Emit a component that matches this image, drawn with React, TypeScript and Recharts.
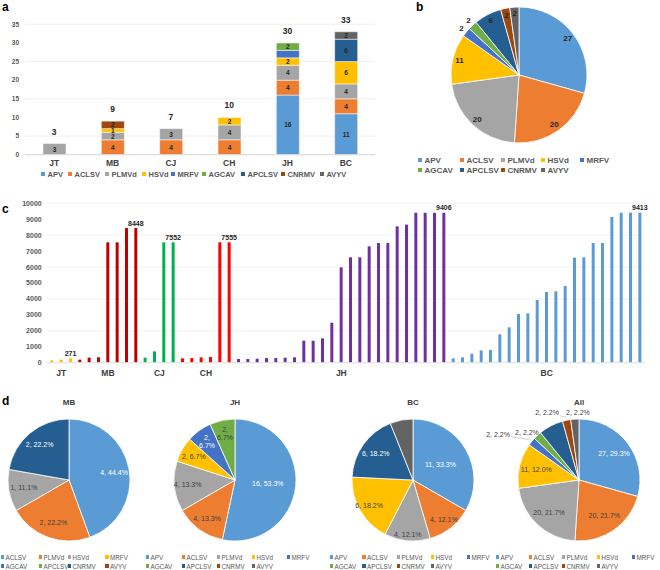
import React from 'react';
import {
  ComposedChart, BarChart, Bar, Line, XAxis, YAxis, CartesianGrid, LabelList,
  PieChart, Pie, Cell,
} from 'recharts';

const FONT = '"Liberation Sans", Arial, Helvetica, sans-serif';

// ---------- shared ----------
const VIRUSES = ['APV', 'ACLSV', 'PLMVd', 'HSVd', 'MRFV', 'AGCAV', 'APCLSV', 'CNRMV', 'AVYV'];
const PALETTE = ['#5B9BD5', '#ED7D31', '#A5A5A5', '#FFC000', '#4472C4', '#70AD47', '#255E91', '#9E480E', '#636363'];

// ---------- panel a ----------
const REGIONS = ['JT', 'MB', 'CJ', 'CH', 'JH', 'BC'];
const APV_BY_REGION = [0, 0, 0, 0, 16, 11];
const ACLSV_BY_REGION = [0, 4, 4, 4, 4, 4];
const PLMVD_BY_REGION = [3, 2, 3, 4, 4, 4];
const HSVD_BY_REGION = [0, 1, 0, 2, 2, 6];
const MRFV_BY_REGION = [0, 0, 0, 0, 2, 0];
const AGCAV_BY_REGION = [0, 0, 0, 0, 2, 0];
const APCLSV_BY_REGION = [0, 0, 0, 0, 0, 6];
const CNRMV_BY_REGION = [0, 2, 0, 0, 0, 0];
const AVYV_BY_REGION = [0, 0, 0, 0, 0, 2];
const A_TICKS = [0, 5, 10, 15, 20, 25, 30, 35];

// ---------- panel b / All ----------
const TOTAL_COUNTS = [27, 20, 20, 11, 2, 2, 6, 2, 2];

// ---------- panel c ----------
const C_GROUP_NAMES = ['JT', 'MB', 'CJ', 'CH', 'JH', 'BC'];
const C_GROUP_COLORS = ['#FFC000', '#C00000', '#00B050', '#FF0000', '#7030A0', '#5B9BD5'];
const JT_READS = [150, 190, 271];
const MB_READS = [190, 320, 340, 7552, 7552, 8448, 8448];
const CJ_READS = [314, 711, 7552, 7552];
const CH_READS = [272, 293, 335, 356, 7555, 7555];
const JH_READS = [230, 230, 251, 293, 293, 314, 335, 1380, 1380, 1527, 2510, 5983, 6611, 6611, 7301, 7510, 7510, 8556, 8661, 9406, 9406, 9406, 9406];
const BC_READS = [272, 335, 565, 774, 795, 1778, 2218, 3054, 3096, 3933, 4435, 4477, 4812, 6590, 6611, 7510, 7510, 9142, 9406, 9413, 9413];
const C_TICKS = [0, 1000, 2000, 3000, 4000, 5000, 6000, 7000, 8000, 9000, 10000];

// ---------- panel d ----------
const MB_NAMES = ['ACLSV', 'PLMVd', 'HSVd', 'MRFV', 'AGCAV', 'APCLSV', 'CNRMV', 'AVYV'];
const MB_COUNTS = [4, 2, 1, 0, 0, 0, 2, 0];
const JH_COUNTS = [16, 4, 4, 2, 2, 2, 0, 0, 0];
const BC_COUNTS = [11, 4, 4, 6, 0, 0, 6, 0, 2];
const ALL_COUNTS = TOTAL_COUNTS;

// ---------- derived tables ----------
const REGION_SERIES = [APV_BY_REGION, ACLSV_BY_REGION, PLMVD_BY_REGION, HSVD_BY_REGION, MRFV_BY_REGION,
  AGCAV_BY_REGION, APCLSV_BY_REGION, CNRMV_BY_REGION, AVYV_BY_REGION];
const aData = REGIONS.map((r, i) => {
  const row: any = { region: r };
  let total = 0;
  VIRUSES.forEach((v, k) => { row[v] = REGION_SERIES[k][i]; total += REGION_SERIES[k][i]; });
  row.total = total;
  return row;
});

const C_GROUP_READS = [JT_READS, MB_READS, CJ_READS, CH_READS, JH_READS, BC_READS];
const cData: any[] = [];
const cGroups: { name: string; center: number }[] = [];
C_GROUP_READS.forEach((arr, g) => {
  const start = cData.length;
  arr.forEach((v, j) => {
    cData.push({ i: cData.length, v, color: C_GROUP_COLORS[g], lbl: j === arr.length - 1 ? String(v) : '' });
  });
  cGroups.push({ name: C_GROUP_NAMES[g], center: start + (arr.length - 1) / 2 });
});

const pieData = (names: string[], counts: number[]) =>
  names.map((n, i) => ({ name: n, value: counts[i], color: PALETTE[i] })).filter(d => d.value > 0);

// ---------- helpers ----------
const LIGHT_TEXT = ['#5B9BD5', '#4472C4', '#255E91'];
const RAD = Math.PI / 180;

function LegendBox({ names, left, top, cols, rowH, fontSize, bold, gap = 2.5, box = 4 }: any) {
  return (
    <div style={{ position: 'absolute', left, top }}>
      {names.map((name: string, i: number) => {
        const c = i % cols.length;
        const r = Math.floor(i / cols.length);
        return (
          <div key={name + i} style={{
            position: 'absolute', left: cols[c], top: r * rowH - rowH / 2, height: rowH,
            display: 'flex', alignItems: 'center', whiteSpace: 'nowrap',
            fontSize, fontWeight: bold ? 'bold' : 'normal', color: '#595959', fontFamily: FONT,
          }}>
            <span style={{ display: 'inline-block', width: box, height: box, background: PALETTE[i], marginRight: gap }} />
            {name}
          </div>
        );
      })}
    </div>
  );
}

function Letter({ ch, left, top }: any) {
  return <div style={{ position: 'absolute', left, top, fontSize: 12, fontWeight: 'bold', fontFamily: FONT, color: '#000', lineHeight: 'normal' }}>{ch}</div>;
}

const segLabel = (props: any) => {
  const { x, y, width, height, value } = props;
  if (!value) return null;
  return (
    <text x={x + width / 2} y={y + height / 2} textAnchor="middle" dominantBaseline="central"
      fontSize={6.5} fontWeight="bold" fill="#262626" fontFamily={FONT}>{value}</text>
  );
};

const totalLabel = (props: any) => {
  const { x, y, value } = props;
  return (
    <text x={x} y={y - 12} textAnchor="middle" dominantBaseline="central"
      fontSize={8.5} fontWeight="bold" fill="#262626" fontFamily={FONT}>{value}</text>
  );
};

const C_BAND = (660 - 15.3 - 47.3) / 64;

const GroupTick = (props: any) => {
  const { x, y, payload } = props;
  const idx = Number(payload.value);
  const g = cGroups.find(gg => Math.floor(gg.center) === idx);
  if (!g) return null;
  return (
    <text x={x + (g.center - idx) * C_BAND} y={y} dy="0.71em" textAnchor="middle"
      fontSize={8.5} fontWeight="bold" fill="#404040" fontFamily={FONT}>{g.name}</text>
  );
};

const cValueLabel = (props: any) => {
  const { x, y, width, value } = props;
  if (!value) return null;
  return (
    <text x={x + width / 2} y={y - 2.5} textAnchor="middle"
      fontSize={7} fontWeight="bold" fill="#262626" fontFamily={FONT}>{value}</text>
  );
};

const bLabel = (props: any) => {
  const { cx, cy, midAngle, outerRadius, value } = props;
  const name = props.name ?? props.payload?.name;
  const f = name === 'MRFV' || name === 'AGCAV' ? 1.09 : 0.9;
  const x = cx + outerRadius * f * Math.cos(-midAngle * RAD);
  const y = cy + outerRadius * f * Math.sin(-midAngle * RAD);
  return (
    <text x={x} y={y} textAnchor="middle" dominantBaseline="central"
      fontSize={8} fontWeight="bold" fill="#262626" fontFamily={FONT}>{value}</text>
  );
};

function makeDLabel(opts: any) {
  return (props: any) => {
    const { cx, cy, midAngle, outerRadius, percent, value } = props;
    const p = props.payload ?? props;
    const name = props.name ?? p.name;
    const color = p.color ?? props.color ?? props.fill;
    if (!value || (opts.hide || []).includes(name)) return null;
    const o = (opts.place || {})[name] || {};
    const f = o.f ?? opts.f ?? 0.75;
    const ang = midAngle + (o.shift ?? 0);
    const x = cx + outerRadius * f * Math.cos(-ang * RAD);
    const y = cy + outerRadius * f * Math.sin(-ang * RAD);
    const pct = (percent * 100).toFixed(1) + '%';
    const fill = f < 1 && LIGHT_TEXT.includes(color) ? '#FFFFFF' : '#404040';
    const wrap = (opts.wrap || []).includes(name);
    let leader = null;
    if (o.leader) {
      const tx = cx + (outerRadius + 3) * Math.cos(-midAngle * RAD);
      const ty = cy + (outerRadius + 3) * Math.sin(-midAngle * RAD);
      const dx = tx - x, dy = ty - y;
      const t = Math.min(13 / Math.max(Math.abs(dx), 0.01), 4 / Math.max(Math.abs(dy), 0.01));
      leader = <line x1={x + t * dx} y1={y + t * dy} x2={tx} y2={ty} stroke="#BFBFBF" strokeWidth={0.7} />;
    }
    return (
      <g>
        {leader}
        {wrap ? (
          <text x={x} y={y} textAnchor="middle" fontSize={7} fill={fill} fontFamily={FONT}>
            <tspan x={x} dy={-1.5}>{value},</tspan>
            <tspan x={x} dy={8}>{pct}</tspan>
          </text>
        ) : (
          <text x={x} y={y} textAnchor="middle" dominantBaseline="central" fontSize={7} fill={fill} fontFamily={FONT}>
            {`${value}, ${pct}`}
          </text>
        )}
      </g>
    );
  };
}

const D_PIES = [
  { title: 'MB', names: MB_NAMES, counts: MB_COUNTS, cx: 69, cols: [0.5, 38.5, 67.5, 105], opts: { f: 0.75 } },
  { title: 'JH', names: VIRUSES, counts: JH_COUNTS, cx: 235, cols: [145.5, 181.5, 216.5, 251.5, 286.5], opts: { f: 0.78, place: { APV: { f: 0.54 } }, wrap: ['MRFV', 'AGCAV'] } },
  { title: 'BC', names: VIRUSES, counts: BC_COUNTS, cx: 413, cols: [329.5, 362, 396.5, 430.5, 466.5], opts: { f: 0.75, place: { APV: { f: 0.52 }, ACLSV: { f: 0.82 }, PLMVd: { f: 0.9 }, HSVd: { f: 0.83 } }, hide: ['AVYV'] } },
  { title: 'All', names: VIRUSES, counts: ALL_COUNTS, cx: 579, cols: [495.5, 528.5, 561.5, 596.5, 631.5], opts: { f: 0.72, place: { MRFV: { f: 1.52, shift: 10, leader: true }, AGCAV: { f: 1.15, shift: 4.8 }, CNRMV: { f: 1.23, shift: 13.5, leader: true }, AVYV: { f: 1.1, shift: -3 } }, hide: ['APCLSV'] } },
];

export default function App() {
  const bData = pieData(VIRUSES, TOTAL_COUNTS);
  return (
    <div style={{ position: 'absolute', left: 0, top: 0, width: 660, height: 570, background: '#fff', overflow: 'hidden', fontFamily: FONT }}>
      {/* panel a */}
      <div style={{ position: 'absolute', left: 0, top: 0 }}>
        <ComposedChart width={380} height={170} data={aData} margin={{ top: 24.3, right: 5, left: 0, bottom: 0 }}>
          <CartesianGrid vertical={false} stroke="#E8E8E8" strokeWidth={0.7} />
          <XAxis dataKey="region" height={15.3} tickSize={0} tickMargin={5.3} interval={0}
            axisLine={{ stroke: '#D9D9D9' }}
            tick={{ fontSize: 8.5, fontWeight: 'bold', fill: '#404040', fontFamily: FONT }} />
          <YAxis domain={[0, 35]} ticks={A_TICKS} width={25} tickSize={0} tickMargin={6} axisLine={false}
            tick={{ fontSize: 6.5, fontWeight: 'bold', fill: '#595959', fontFamily: FONT }} />
          {VIRUSES.map((v, k) => (
            <Bar key={v} dataKey={v} stackId="s" fill={PALETTE[k]} barSize={23} stroke="#fff" strokeWidth={0.5} isAnimationActive={false}>
              {v !== 'MRFV' ? <LabelList dataKey={v} content={segLabel} /> : null}
            </Bar>
          ))}
          <Line dataKey="total" stroke="none" dot={false} activeDot={false} isAnimationActive={false} legendType="none">
            <LabelList dataKey="total" content={totalLabel} />
          </Line>
        </ComposedChart>
      </div>
      <LegendBox names={VIRUSES} left={0} top={174} cols={[41, 68, 105, 142, 171, 202, 241, 281, 320]} rowH={10} fontSize={7.5} bold />
      <Letter ch="a" left={2} top={0} />

      {/* panel b */}
      <div style={{ position: 'absolute', left: 380, top: 0 }}>
        <PieChart width={280} height={155} margin={{ top: 0, right: 0, bottom: 0, left: 0 }}>
          <Pie data={bData} dataKey="value" nameKey="name" cx={139} cy={75} outerRadius={68}
            startAngle={90} endAngle={-270} stroke="#fff" strokeWidth={0.8}
            label={bLabel} labelLine={false} isAnimationActive={false}>
            {bData.map(d => <Cell key={d.name} fill={d.color} />)}
          </Pie>
        </PieChart>
      </div>
      <LegendBox names={VIRUSES} left={0} top={160} cols={[418, 460, 501, 541, 580]} rowH={10} fontSize={8} bold />
      <Letter ch="b" left={416} top={0} />

      {/* panel c */}
      <div style={{ position: 'absolute', left: 0, top: 195 }}>
        <BarChart width={660} height={190} data={cData} margin={{ top: 8.3, right: 15.3, left: 0, bottom: 0 }} barCategoryGap={0}>
          <CartesianGrid vertical={false} stroke="#EDEDED" strokeWidth={0.7} />
          <XAxis dataKey="i" interval={0} height={22.3} tickSize={0} tickMargin={7.3}
            axisLine={{ stroke: '#E3E3E3' }} tick={<GroupTick />} />
          <YAxis domain={[0, 10000]} ticks={C_TICKS} width={47.3} tickSize={0} tickMargin={5.6} axisLine={false}
            tick={{ fontSize: 7, fontWeight: 'bold', fill: '#595959', fontFamily: FONT }} />
          <Bar dataKey="v" barSize={3} isAnimationActive={false}>
            {cData.map(d => <Cell key={d.i} fill={d.color} />)}
            <LabelList dataKey="lbl" content={cValueLabel} />
          </Bar>
        </BarChart>
      </div>
      <Letter ch="c" left={2} top={202.3} />

      {/* panel d */}
      {D_PIES.map(p => {
        const data = pieData(p.names, p.counts);
        return (
          <React.Fragment key={p.title}>
            <div style={{ position: 'absolute', left: p.cx - 30, top: 398, width: 60, textAlign: 'center', fontSize: 8, fontWeight: 'bold', color: '#404040', lineHeight: '10px', fontFamily: FONT }}>{p.title}</div>
            <div style={{ position: 'absolute', left: p.cx - 100, top: 400 }}>
              <PieChart width={200} height={155} margin={{ top: 0, right: 0, bottom: 0, left: 0 }}>
                <Pie data={data} dataKey="value" nameKey="name" cx={100} cy={80} outerRadius={61}
                  startAngle={90} endAngle={-270} stroke="#fff" strokeWidth={0.8}
                  label={makeDLabel(p.opts)} labelLine={false} isAnimationActive={false}>
                  {data.map(d => <Cell key={d.name} fill={d.color} />)}
                </Pie>
              </PieChart>
            </div>
            <LegendBox names={p.names} left={0} top={557} cols={p.cols} rowH={9} fontSize={6.3} bold={false} gap={1.5} box={3.5} />
          </React.Fragment>
        );
      })}
      <Letter ch="d" left={2} top={393.8} />
    </div>
  );
}
